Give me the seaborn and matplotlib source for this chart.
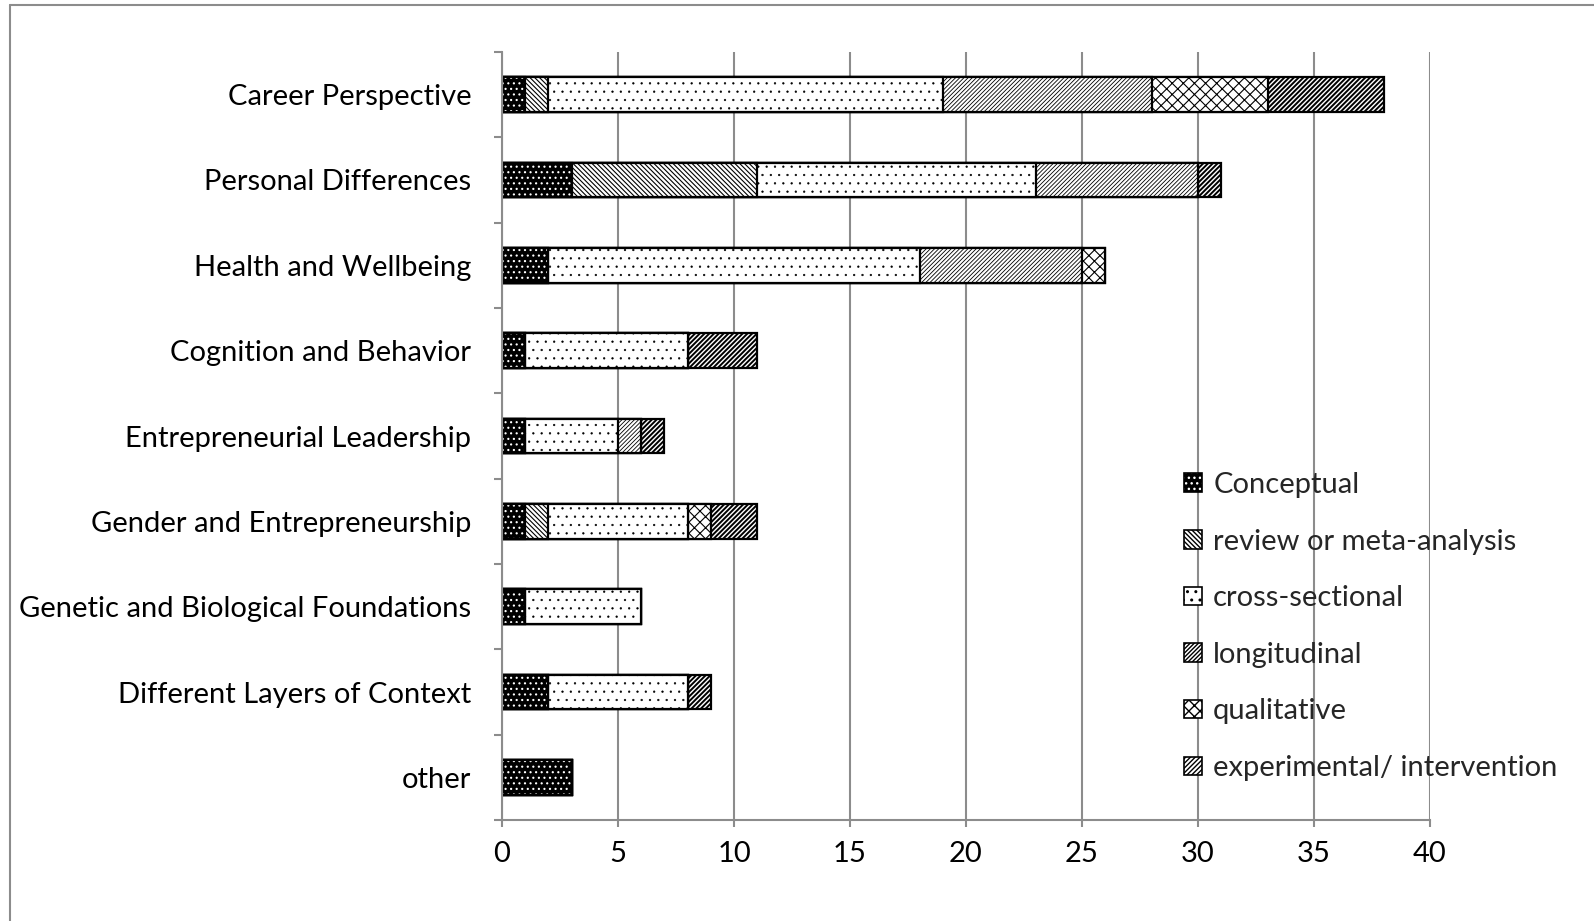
import matplotlib
matplotlib.use("Agg")
import matplotlib.pyplot as plt
import numpy as np
import pandas as pd
import seaborn as sns
from matplotlib.patches import Patch
from matplotlib.lines import Line2D
from matplotlib.legend_handler import HandlerTuple

# Research topics and the number of studies per design type
categories = [
    "Career Perspective",
    "Personal Differences",
    "Health and Wellbeing",
    "Cognition and Behavior",
    "Entrepreneurial Leadership",
    "Gender and Entrepreneurship",
    "Genetic and Biological Foundations",
    "Different Layers of Context",
    "other",
]
conceptual      = [1, 3, 2, 1, 1, 1, 1, 2, 3]
review          = [1, 8, 0, 0, 0, 1, 0, 0, 0]
cross_sectional = [17, 12, 16, 7, 4, 6, 5, 6, 0]
longitudinal    = [9, 7, 7, 0, 1, 0, 0, 0, 0]
qualitative     = [5, 0, 1, 0, 0, 1, 0, 0, 0]
experimental    = [5, 1, 0, 3, 1, 2, 0, 1, 0]

series_names = ["Conceptual", "review or meta-analysis", "cross-sectional",
                "longitudinal", "qualitative", "experimental/ intervention"]
series_values = [conceptual, review, cross_sectional,
                 longitudinal, qualitative, experimental]
x_ticks = [0, 5, 10, 15, 20, 25, 30, 35, 40]

# Fill / hatch styling for each design type
styles = {
    "Conceptual":                 dict(face="black", hatch="." * 3,  hcolor="white", hlw=0.8),
    "review or meta-analysis":    dict(face="white", hatch="\\" * 7, hcolor="black", hlw=0.8),
    "cross-sectional":            dict(face="white", hatch="." * 2,  hcolor="black", hlw=0.4),
    "longitudinal":               dict(face="white", hatch="/" * 8,  hcolor="black", hlw=0.6),
    "qualitative":                dict(face="white", hatch="x" * 3,  hcolor="black", hlw=0.8),
    "experimental/ intervention": dict(face="white", hatch="/" * 7,  hcolor="black", hlw=1.4),
}

sns.set_theme(style="white")
plt.rcParams["font.family"] = ["Lato", "DejaVu Sans"]
FS = 21
GRID = "#8c8c8c"

df = pd.DataFrame({"topic": categories})
cum = np.zeros(len(categories))
for name, vals in zip(series_names, series_values):
    cum = cum + np.array(vals)
    df[name] = cum.copy()

fig = plt.figure(figsize=(15.94, 9.21), dpi=100)
ax = fig.add_axes([502 / 1594, 1 - 820 / 921, 928 / 1594, 768 / 921])

BAR_W = 0.41
EDGE_LW = 1.6


def set_hatch_lw(patches, lw):
    for p in patches:
        if hasattr(p, "set_hatch_linewidth"):
            p.set_hatch_linewidth(lw)


# Stacked bars: draw cumulative totals from the outermost segment inwards
for name in reversed(series_names):
    st = styles[name]
    n_before = len(ax.patches)
    with plt.rc_context({"hatch.linewidth": st["hlw"]}):
        if st["hcolor"] == "black":
            sns.barplot(data=df, y="topic", x=name, order=categories, orient="h",
                        width=BAR_W, errorbar=None, color=st["face"],
                        facecolor=st["face"], edgecolor="black",
                        hatch=st["hatch"], linewidth=EDGE_LW, ax=ax)
            set_hatch_lw(ax.patches[n_before:], st["hlw"])
        else:
            sns.barplot(data=df, y="topic", x=name, order=categories, orient="h",
                        width=BAR_W, errorbar=None, color=st["face"],
                        facecolor=st["face"], edgecolor=st["hcolor"],
                        hatch=st["hatch"], linewidth=0, ax=ax)
            set_hatch_lw(ax.patches[n_before:], st["hlw"])
            sns.barplot(data=df, y="topic", x=name, order=categories, orient="h",
                        width=BAR_W, errorbar=None, fill=False, color="black",
                        edgecolor="black", linewidth=EDGE_LW, ax=ax)

ax.set_xlim(0, 40)
ax.set_ylim(len(categories) - 0.5, -0.5)
ax.set_xticks(x_ticks)
ax.set_xticklabels([str(t) for t in x_ticks])
ax.set_xlabel("")
ax.set_ylabel("")

# Axes styling
ax.set_axisbelow(True)
ax.xaxis.grid(True, color=GRID, linewidth=1.5)
ax.yaxis.grid(False)
for side in ("top", "right"):
    ax.spines[side].set_visible(False)
for side in ("left", "bottom"):
    ax.spines[side].set_color(GRID)
    ax.spines[side].set_linewidth(1.5)

ax.set_yticks(np.arange(len(categories) + 1) - 0.5, minor=True)
ax.tick_params(axis="y", which="major", length=0, pad=22, labelsize=FS, labelcolor="black")
ax.tick_params(axis="y", which="minor", length=6, width=1.5, color=GRID, direction="out", left=True)
ax.tick_params(axis="x", which="major", length=5, width=1.5, color=GRID, direction="out",
               bottom=True, pad=10, labelsize=FS, labelcolor="black")

# Legend with matching patterns
handles = []
for name in series_names:
    st = styles[name]
    with plt.rc_context({"hatch.linewidth": st["hlw"]}):
        if st["hcolor"] == "black":
            p = Patch(facecolor=st["face"], edgecolor="black", hatch=st["hatch"], linewidth=1.2)
            set_hatch_lw([p], st["hlw"])
            handles.append(p)
        else:
            inner = Patch(facecolor=st["face"], edgecolor=st["hcolor"], hatch=st["hatch"], linewidth=0)
            set_hatch_lw([inner], st["hlw"])
            outer = Patch(facecolor="none", edgecolor="black", linewidth=1.2)
            handles.append((inner, outer))

leg = fig.legend(handles, series_names, loc="upper left",
                 bbox_to_anchor=(1184 / 1594, 1 - 472 / 921), bbox_transform=fig.transFigure,
                 frameon=False, fontsize=FS, handlelength=0.6, handleheight=0.6,
                 handletextpad=0.4, labelspacing=1.05, borderpad=0, borderaxespad=0,
                 handler_map={tuple: HandlerTuple(ndivide=1)})

# Chart area border (top and left edges)
fig.add_artist(Line2D([10 / 1594, 10 / 1594], [0, 1 - 5 / 921], transform=fig.transFigure,
                      color=GRID, linewidth=1.5))
fig.add_artist(Line2D([10 / 1594, 1], [1 - 5 / 921, 1 - 5 / 921], transform=fig.transFigure,
                      color=GRID, linewidth=1.5))

fig.savefig("out.png", dpi=100)
